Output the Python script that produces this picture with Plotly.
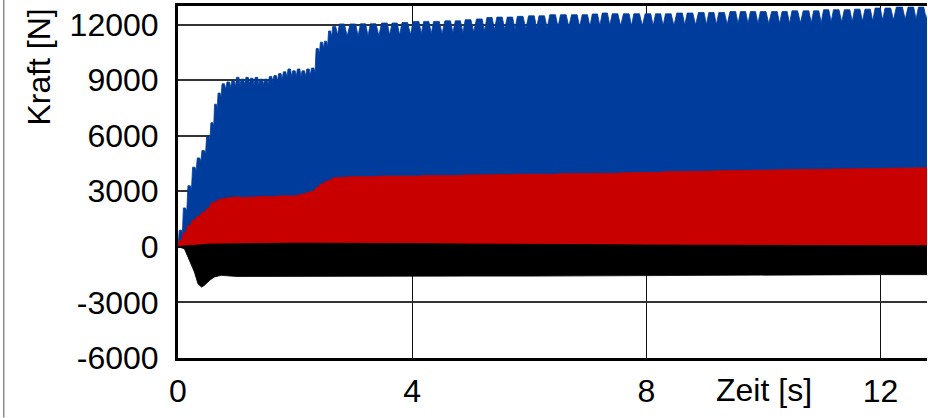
import plotly.graph_objects as go

# ---- measured force data -------------------------------------------------
# times of the individual load peaks [s]
t_peak = [
    0.04, 0.11, 0.19, 0.27, 0.35, 0.43, 0.51, 0.58, 0.64, 0.70, 0.77,
    0.86, 0.94, 1.02, 1.10, 1.18, 1.26, 1.34, 1.42, 1.50, 1.58, 1.66, 1.74,
    1.82, 1.90, 1.98, 2.06, 2.14, 2.22, 2.30,
    2.38, 2.45, 2.52, 2.59, 2.66,
    2.79, 2.99, 3.16, 3.33, 3.53, 3.70, 3.87,
    4.07, 4.24, 4.41, 4.61, 4.78, 4.95, 5.15,
    5.32, 5.49, 5.67, 5.84, 6.04, 6.21, 6.40,
    6.58, 6.77, 6.95, 7.12, 7.29, 7.46, 7.66,
    7.83, 8.03, 8.20, 8.37, 8.57, 8.74, 8.94,
    9.11, 9.28, 9.48, 9.65, 9.82, 9.99, 10.19,
    10.36, 10.53, 10.73, 10.90, 11.07, 11.24, 11.43,
    11.60, 11.78, 11.95, 12.12, 12.32, 12.52, 12.69,
    12.87,
]

# peak force of the blue channel [N]
blue_peak = [
    900, 2100, 3300, 4300, 4800, 5200, 6000, 6700, 7700, 8300, 8800,
    8900, 8950, 9150, 9050, 9150, 9100, 9150, 9050, 9050, 9200, 9250, 9350,
    9450, 9600, 9500, 9600, 9500, 9600, 9650,
    10700, 11050, 11100, 11650, 11900,
    12030, 12030, 12040, 12040, 12080, 12080, 12110,
    12170, 12170, 12170, 12200, 12200, 12260, 12300,
    12380, 12400, 12400, 12440, 12470, 12470, 12530,
    12530, 12530, 12530, 12570, 12620, 12580, 12580,
    12580, 12580, 12580, 12580, 12620, 12620, 12650,
    12650, 12650, 12700, 12700, 12700, 12700, 12700,
    12700, 12740, 12740, 12740, 12800, 12800, 12800,
    12830, 12830, 12890, 12890, 12940, 12940, 12940,
    12940,
]

# force level between two neighbouring blue peaks [N]
blue_between = [
    700, 1900, 3100, 4100, 4600, 5000, 5800, 6500, 7500, 8100, 8500,
    8600, 8650, 8750, 8750, 8800, 8750, 8750, 8750, 8750, 8900, 8950, 9050,
    9150, 9200, 9200, 9200, 9200, 9250, 9400,
    10400, 10700, 10800, 11300, 11450,
    11380, 11380, 11390, 11400, 11430, 11430, 11460,
    11520, 11520, 11520, 11550, 11560, 11610, 11650,
    11730, 11750, 11750, 11790, 11820, 11820, 11880,
    11880, 11880, 11890, 11930, 11960, 11930, 11930,
    11930, 11930, 11930, 11940, 11970, 11980, 12000,
    12000, 12010, 12050, 12050, 12050, 12050, 12050,
    12060, 12090, 12090, 12100, 12150, 12150, 12160,
    12180, 12200, 12240, 12250, 12290, 12290, 12290,
]

# peak force of the red channel [N]
red_peak = [
    330, 750, 1150, 1450, 1650, 1850, 2050, 2350, 2450, 2550, 2600,
    2650, 2680, 2700, 2660, 2700, 2680, 2700, 2720, 2700, 2740, 2720, 2750,
    2740, 2760, 2750, 2800, 2850, 2940, 3000,
    3200, 3390, 3500, 3600, 3720,
    3760, 3780, 3760, 3800, 3820, 3800, 3830,
    3820, 3850, 3830, 3860, 3850, 3880, 3860,
    3900, 3880, 3900, 3920, 3900, 3940, 3920,
    3950, 3940, 3960, 3950, 3980, 3970, 4000,
    4010, 4030, 4020, 4060, 4080, 4070, 4100,
    4090, 4110, 4120, 4110, 4140, 4130, 4150,
    4160, 4150, 4180, 4170, 4190, 4200, 4190,
    4220, 4210, 4230, 4240, 4230, 4260, 4270,
    4270,
]

# black channel: upper and lower envelope [N]
t_black = [0, 0.05, 0.11, 0.20, 0.28, 0.34, 0.40, 0.45, 0.54, 0.62, 0.74,
           1.0, 1.4, 2.0, 3.0, 4.0, 5.0, 6.0, 7.0, 8.0, 9.0, 10.0, 11.0, 12.0, 12.87]
black_max = [0, 30, 60, 80, 80, 100, 120, 140, 150, 150, 160,
             160, 180, 200, 200, 180, 150, 150, 120, 100, 80, 80, 60, 60, 60]
black_min = [0, -40, -110, -730, -1360, -1990, -2170, -2080, -1810, -1630, -1540,
             -1600, -1570, -1580, -1580, -1580, -1580, -1580, -1580, -1570,
             -1560, -1540, -1520, -1500, -1500]

x_ticks = [0, 4, 8, 12]
y_ticks = [-6000, -3000, 0, 3000, 6000, 9000, 12000]

assert len(t_peak) == len(blue_peak) == len(red_peak) == len(blue_between) + 1

BLUE = "#003c9c"
RED = "#c80000"
FONT = "Liberation Sans, Arial, sans-serif"
FONT_SIZE = 32


def peak_outline(t, top, between=None, plateau=0.22):
    """Upper outline of a dense oscillating signal: a flat cap at every
    load peak, optionally dipping to the given level between peaks."""
    xs, ys = [0.0], [0.0]
    n = len(t)
    for i in range(n):
        left = t[i] - t[i - 1] if i > 0 else t[1] - t[0]
        right = t[i + 1] - t[i] if i < n - 1 else left
        xs += [t[i] - plateau * left, t[i] + plateau * right]
        ys += [top[i], top[i]]
        if between is not None and i < n - 1:
            xs.append((t[i] + t[i + 1]) / 2)
            ys.append(between[i])
    return xs, ys


fig = go.Figure()

bx, by = peak_outline(t_peak, blue_peak, blue_between, plateau=0.26)
fig.add_trace(go.Scatter(x=bx, y=by, mode="lines", fill="tozeroy",
                         fillcolor=BLUE, line=dict(color=BLUE, width=0.8),
                         hoverinfo="skip", showlegend=False))

rx, ry = peak_outline(t_peak, red_peak, None, plateau=0.3)
fig.add_trace(go.Scatter(x=rx, y=ry, mode="lines", fill="tozeroy",
                         fillcolor=RED, line=dict(color=RED, width=0.8),
                         hoverinfo="skip", showlegend=False))

fig.add_trace(go.Scatter(x=t_black + t_black[::-1], y=black_max + black_min[::-1],
                         mode="lines", fill="toself", fillcolor="#000000",
                         line=dict(color="#000000", width=0.8),
                         hoverinfo="skip", showlegend=False))

W, H = 928, 418
L, R, T, B = 177.5, 0.5, 6, 59.5
plot_w = W - L - R
plot_h = H - T - B

fig.update_layout(
    width=W, height=H,
    margin=dict(l=L, r=R, t=T, b=B, pad=0),
    paper_bgcolor="white", plot_bgcolor="white",
    font=dict(family=FONT, size=FONT_SIZE, color="black"),
    xaxis=dict(range=[0, plot_w / 58.63], tickvals=x_ticks,
               ticktext=[str(v) for v in x_ticks],
               showgrid=True, gridcolor="#111111", gridwidth=1,
               zeroline=False, showline=True, linecolor="black", linewidth=3,
               mirror=True, ticks="", ticklabelstandoff=3),
    yaxis=dict(range=[-6000, 13000], tickvals=y_ticks,
               ticktext=[str(v) for v in y_ticks],
               showgrid=True, gridcolor="#333333", gridwidth=1.5,
               zeroline=False, showline=True, linecolor="black", linewidth=3,
               ticks="", ticklabelstandoff=10),
    annotations=[
        dict(text="Kraft [N]", textangle=-90, xref="paper", yref="paper",
             x=(38 - L) / plot_w, y=(H - B - 67) / plot_h,
             xanchor="center", yanchor="middle", showarrow=False,
             font=dict(family=FONT, size=FONT_SIZE, color="black")),
        dict(text="Zeit [s]", xref="x", yref="paper", x=10.0,
             y=(H - B - 391) / plot_h, xanchor="center", yanchor="middle",
             showarrow=False, font=dict(family=FONT, size=FONT_SIZE, color="black")),
    ],
    shapes=[
        dict(type="line", xref="paper", yref="paper",
             x0=(3 - L) / plot_w, x1=(3 - L) / plot_w,
             y0=-B / plot_h, y1=(H - B) / plot_h,
             line=dict(color="#8c8c8c", width=1.5)),
    ],
)

fig.write_html("out.html")
